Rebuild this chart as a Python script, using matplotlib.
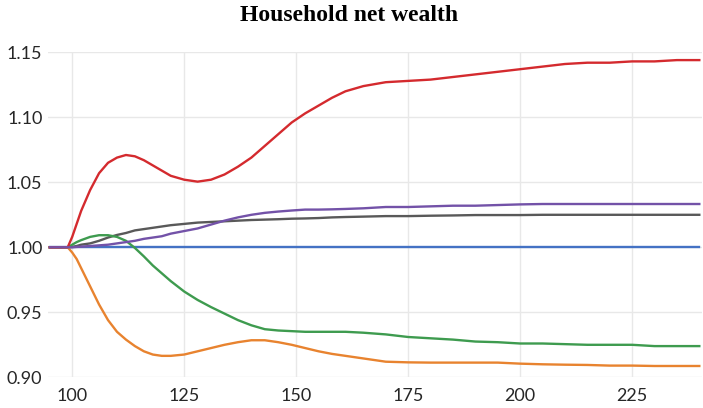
import matplotlib
matplotlib.use("Agg")
import matplotlib.pyplot as plt

periods = [95, 99, 100, 101, 102, 104, 106, 108, 110, 112, 114, 116, 118, 120,
           122, 125, 128, 131, 134, 137, 140, 143, 146, 149, 152, 155, 158, 161,
           165, 170, 175, 180, 185, 190, 195, 200, 205, 210, 215, 220, 225, 230,
           235, 240]

baseline = [1.0] * len(periods)

red = [1.0, 1.0, 1.008, 1.018, 1.028, 1.044, 1.057, 1.065, 1.069, 1.071, 1.070,
       1.067, 1.063, 1.059, 1.055, 1.052, 1.0505, 1.052, 1.056, 1.062, 1.069,
       1.078, 1.087, 1.096, 1.103, 1.109, 1.115, 1.120, 1.124, 1.127, 1.128,
       1.129, 1.131, 1.133, 1.135, 1.137, 1.139, 1.141, 1.142, 1.142, 1.143,
       1.143, 1.144, 1.144]

gray = [1.0, 1.0, 1.0003, 1.001, 1.002, 1.003, 1.005, 1.0075, 1.0095, 1.011,
        1.013, 1.014, 1.015, 1.016, 1.017, 1.018, 1.019, 1.0195, 1.020, 1.0205,
        1.021, 1.0213, 1.0216, 1.022, 1.0222, 1.0225, 1.023, 1.0233, 1.0236,
        1.024, 1.024, 1.0243, 1.0245, 1.0248, 1.0248, 1.0248, 1.025, 1.025,
        1.025, 1.025, 1.025, 1.025, 1.025, 1.025]

purple = [1.0, 1.0, 1.0, 1.0003, 1.0005, 1.001, 1.0015, 1.002, 1.003, 1.004,
          1.005, 1.0065, 1.0075, 1.0085, 1.0105, 1.0125, 1.0145, 1.0175, 1.0205,
          1.023, 1.025, 1.0265, 1.0275, 1.0283, 1.029, 1.029, 1.0292, 1.0295,
          1.030, 1.031, 1.031, 1.0315, 1.032, 1.032, 1.0325, 1.033, 1.0333,
          1.0333, 1.0333, 1.0333, 1.0333, 1.0333, 1.0333, 1.0333]

green = [1.0, 1.0, 1.002, 1.004, 1.0055, 1.008, 1.0093, 1.0093, 1.008, 1.005,
         0.9995, 0.993, 0.986, 0.980, 0.974, 0.966, 0.9595, 0.954, 0.949, 0.944,
         0.940, 0.937, 0.936, 0.9355, 0.935, 0.935, 0.935, 0.935, 0.9343, 0.933,
         0.931, 0.930, 0.929, 0.9275, 0.927, 0.926, 0.926, 0.9255, 0.925, 0.925,
         0.925, 0.924, 0.924, 0.924]

orange = [1.0, 1.0, 0.996, 0.991, 0.984, 0.970, 0.956, 0.944, 0.935, 0.929,
          0.924, 0.920, 0.9175, 0.9165, 0.9165, 0.9175, 0.920, 0.9225, 0.925,
          0.927, 0.9285, 0.9285, 0.927, 0.925, 0.9225, 0.920, 0.918, 0.9165,
          0.9145, 0.912, 0.9115, 0.9113, 0.9113, 0.9113, 0.9113, 0.9105, 0.910,
          0.9097, 0.9095, 0.909, 0.909, 0.9087, 0.9087, 0.9087]

x_ticks = [100, 125, 150, 175, 200, 225]
y_ticks = [0.90, 0.95, 1.00, 1.05, 1.10, 1.15]
y_labels = ["0.90", "0.95", "1.00", "1.05", "1.10", "1.15"]
title = "Household net wealth"

fig = plt.figure(figsize=(7.03, 4.08), dpi=100)
ax = fig.add_axes([48 / 703, 1 - 377.3 / 408, (702 - 48) / 703, (377.3 - 52.3) / 408])

lw = 1.7
ax.plot(periods, baseline, color="#4472C4", lw=lw, zorder=3)
ax.plot(periods, gray, color="#595959", lw=lw, zorder=4)
ax.plot(periods, purple, color="#7352A8", lw=lw, zorder=5)
ax.plot(periods, green, color="#3E9B4F", lw=lw, zorder=4)
ax.plot(periods, orange, color="#E8832F", lw=lw, zorder=4)
ax.plot(periods, red, color="#D42A2E", lw=lw, zorder=4)

ax.set_xlim(94.6, 240.6)
ax.set_ylim(0.90, 1.15)
ax.set_xticks(x_ticks)
ax.set_yticks(y_ticks)
ax.set_yticklabels(y_labels)

for s in ax.spines.values():
    s.set_visible(False)
ax.grid(True, color="#E8E8E8", lw=1.0, zorder=0)
ax.set_axisbelow(True)
ax.tick_params(length=0, labelsize=13, labelcolor="#262626")
ax.tick_params(axis="y", pad=4)
ax.tick_params(axis="x", pad=8)
for lab in ax.get_xticklabels() + ax.get_yticklabels():
    lab.set_fontfamily("Lato")

fig.text(349 / 703, 1 - 21 / 408, title, ha="center", va="baseline",
         fontsize=17, fontweight="bold", family="Liberation Serif", color="black")

fig.savefig("out.png", dpi=100)
